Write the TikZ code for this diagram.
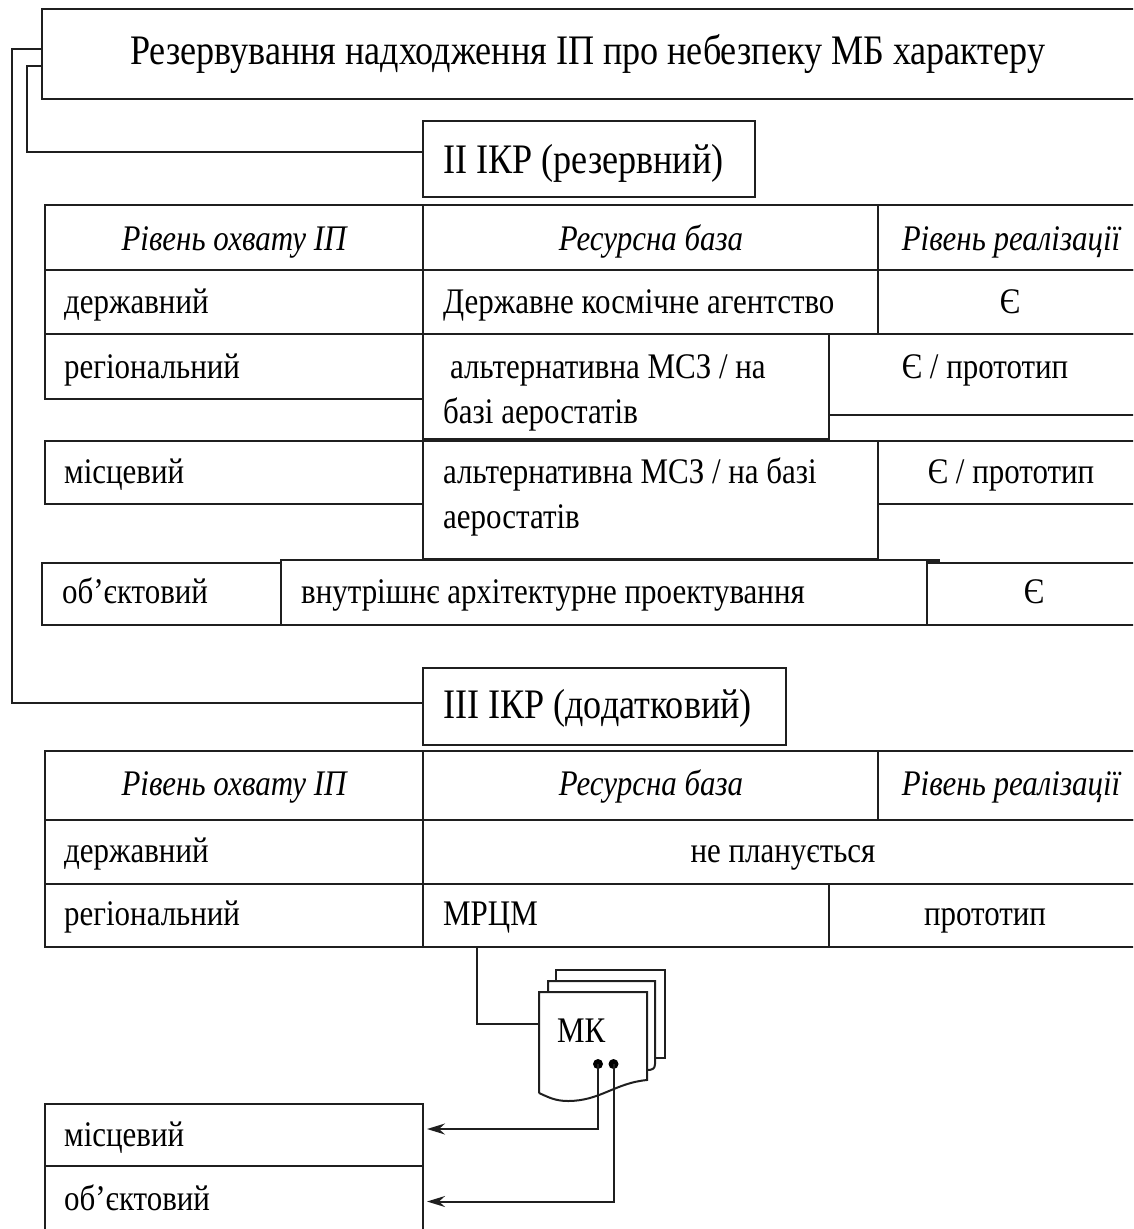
\documentclass[tikz,border=0pt]{standalone}
\usepackage{fontspec}
\setmainfont{Liberation Serif}
\newfontfamily\narrowfont[FakeStretch=0.86]{Liberation Serif}
\newfontfamily\narrowit[FakeStretch=0.86,Ligatures=TeX]{Liberation Serif Italic}
\usetikzlibrary{arrows.meta}
\tikzset{
  rule/.style={line width=2pt,draw=black!88},
  cellb/.style={rule,anchor=north west,inner sep=0pt,outer sep=0pt,rectangle},
  big/.style={anchor=base west,inner sep=0pt,font=\narrowfont\fontsize{42}{42}\selectfont,text=black},
  txt/.style={anchor=base west,inner sep=0pt,font=\narrowfont\fontsize{36}{36}\selectfont,text=black},
  ctr/.style={txt,anchor=base},
  hdr/.style={anchor=base,inner sep=0pt,font=\narrowit\fontsize{36}{36}\selectfont,text=black},
  link/.style={rule,line join=miter},
  tip/.style={link,-{Stealth[length=18pt,width=11pt,inset=6pt]}},
  dot/.style={circle,fill=black,inner sep=0pt,minimum size=10pt}
}
\newcommand\cell[5]{\node[cellb,minimum width=\fpeval{#4-#2}pt,minimum height=\fpeval{#5-#3}pt] (#1) at (#2,#3) {};}
\begin{document}
\begin{tikzpicture}[x=1pt,y=-1pt]
\useasboundingbox (0,0) rectangle (1133,1229);
\clip (0,0) rectangle (1133,1229);
% title and section boxes
\cell{title}{42}{9}{1145}{99}
\node[big] (titlet) at (130,64) {Резервування надходження ІП про небезпеку МБ характеру};
\cell{ikr2}{423}{121}{755}{197}
\node[big] (ikr2t) at (443,173) {ІІ ІКР (резервний)};
\cell{ikr3}{423}{668}{786}{745}
\node[big] (ikr3t) at (443,718) {ІІІ ІКР (додатковий)};
% table 1
\cell{a1}{45}{205}{423}{270}
\cell{a2}{423}{205}{878}{270}
\cell{a3}{878}{205}{1145}{270}
\node[hdr] (a1t) at (234,250) {Рівень охвату ІП};
\node[hdr] (a2t) at (651,250) {Ресурсна база};
\node[hdr] (a3t) at (1011,250) {Рівень реалізації};
\cell{b1}{45}{270}{423}{334}
\cell{b2}{423}{270}{878}{334}
\cell{b3}{878}{270}{1145}{334}
\node[txt] (b1t) at (64,313) {державний};
\node[txt] (b2t) at (443,313) {Державне космічне агентство};
\node[ctr] (b3t) at (1010,313) {Є};
\cell{c1}{45}{334}{423}{399}
\cell{c2}{423}{334}{829}{439}
\cell{c3}{829}{334}{1145}{415}
\node[txt] (c1t) at (64,378) {регіональний};
\node[txt] (c2t) at (450,378) {альтернативна МСЗ / на};
\node[txt] (c2u) at (443,423) {базі аеростатів};
\node[ctr] (c3t) at (985,378) {Є / прототип};
\cell{d1}{45}{441}{423}{504}
\cell{d2}{423}{441}{878}{559}
\cell{d3}{878}{441}{1145}{504}
\node[txt] (d1t) at (64,483) {місцевий};
\node[txt] (d2t) at (443,483) {альтернативна МСЗ / на базі};
\node[txt] (d2u) at (443,528) {аеростатів};
\node[ctr] (d3t) at (1011,483) {Є / прототип};
\cell{e1}{42}{563}{281}{625}
\cell{e2}{281}{560}{927}{625}
\cell{e3}{927}{563}{1145}{625}
\node[txt] (e1t) at (62,603) {об’єктовий};
\node[txt] (e2t) at (301,603) {внутрішнє архітектурне проектування};
\node[ctr] (e3t) at (1034,603) {Є};
\coordinate (stub) at (940,560);
\draw[link,line width=3pt] (e2.north east) -- (stub);
% table 2
\cell{f1}{45}{751}{423}{820}
\cell{f2}{423}{751}{878}{820}
\cell{f3}{878}{751}{1145}{820}
\node[hdr] (f1t) at (234,795) {Рівень охвату ІП};
\node[hdr] (f2t) at (651,795) {Ресурсна база};
\node[hdr] (f3t) at (1011,795) {Рівень реалізації};
\cell{g1}{45}{820}{423}{884}
\cell{g2}{423}{820}{1145}{884}
\node[txt] (g1t) at (64,862) {державний};
\node[ctr] (g2t) at (783,862) {не планується};
\cell{h1}{45}{884}{423}{947}
\cell{h2}{423}{884}{829}{947}
\cell{h3}{829}{884}{1145}{947}
\node[txt] (h1t) at (64,925) {регіональний};
\node[txt] (h2t) at (443,925) {МРЦМ};
\node[ctr] (h3t) at (985,925) {прототип};
\cell{i1}{45}{1104}{423}{1166}
\cell{i2}{45}{1166}{423}{1235}
\node[txt] (i1t) at (64,1146) {місцевий};
\node[txt] (i2t) at (64,1210) {об’єктовий};
% document stack
\draw[rule] (556,981) -- (556,970) -- (665,970) -- (665,1058) -- (655,1058);
\draw[rule] (548,992) -- (548,981) -- (655,981) -- (655,1064) .. controls (655,1069) and (652,1070) .. (647,1070);
\draw[rule] (539,1093) -- (539,992) -- (647,992) -- (647,1080)
  .. controls (615,1083) and (600,1101) .. (568,1101) .. controls (555,1101) and (548,1097) .. (539,1093);
\node[cellb,draw=none,minimum width=108pt,minimum height=101pt] (mk) at (539,992) {};
\node[txt] (mkt) at (557,1042) {МК};
\node[dot] (p1) at (598,1064) {};
\node[dot] (p2) at (613.5,1064) {};
% connectors
\draw[link] ([yshift=5pt]title.west) -- ++(-30,0) |- ([yshift=4pt]ikr3.west);
\draw[link] ([yshift=-12pt]title.west) -- ++(-15,0) |- ([yshift=7pt]ikr2.west);
\draw[link] ([xshift=54pt]h2.south west) |- ([yshift=19pt]mk.west);
\draw[tip] (p1.center) |- ([xshift=4pt,yshift=6pt]i1.east);
\draw[tip] (p2.center) |- ([xshift=4pt,yshift=-1pt]i2.east);
\end{tikzpicture}
\end{document}
